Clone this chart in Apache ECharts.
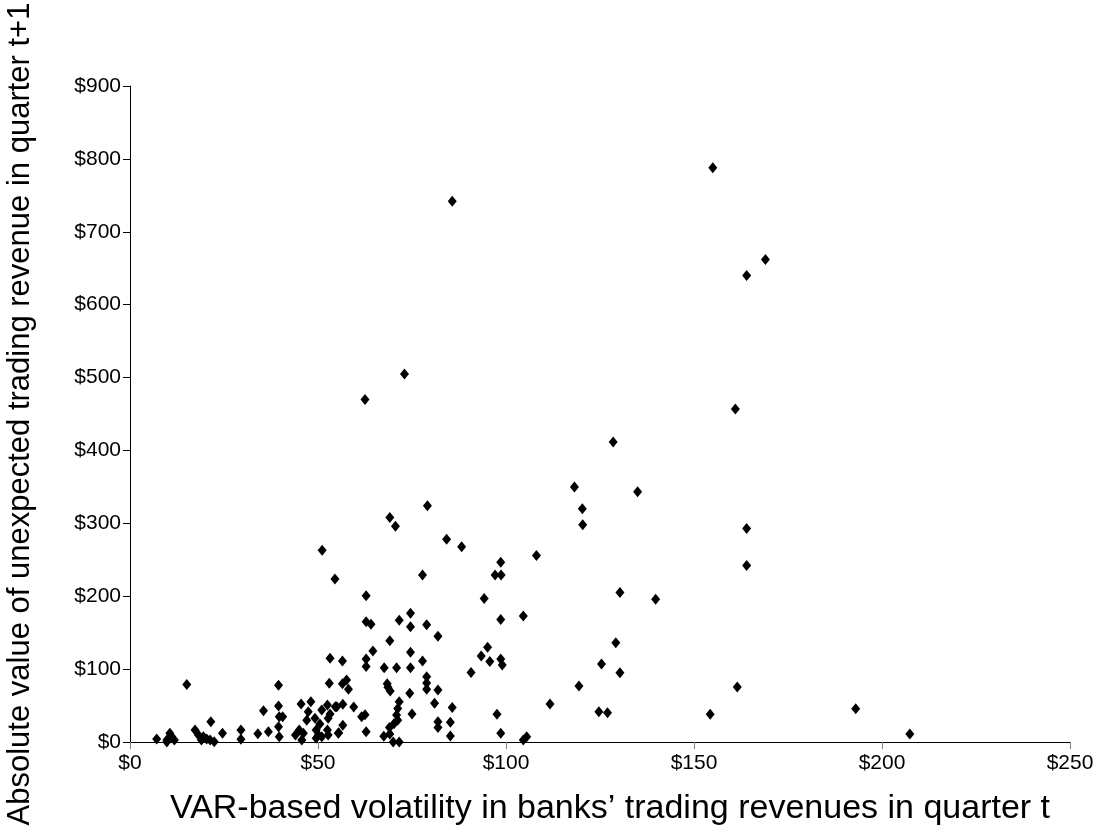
<!DOCTYPE html>
<html>
<head>
<meta charset="utf-8">
<script src="https://cdn.jsdelivr.net/npm/echarts@6/dist/echarts.min.js"></script>
<style>html,body{margin:0;padding:0;background:#fff;}#c{width:1101px;height:838px;}</style>
</head>
<body>
<div id="c"></div>
<script>
var xTitle = "VAR-based volatility in banks\u2019 trading revenues in quarter t";
var yTitle = "Absolute value of unexpected trading revenue in quarter t+1";

// VAR-based volatility (x) and absolute unexpected revenue (y), $ millions
var varVol = [
 7.1, 9.8, 10.6, 11.1, 11.8, 9.8, 15.1, 17.3, 18.2, 19.5, 20.4, 19.0, 22.4, 21.3, 21.5, 24.6, 29.5, 29.5,
 34.0, 36.8, 35.5, 39.5, 39.5, 39.7, 40.6, 39.5, 39.7, 44.0, 45.0, 46.1, 45.7, 45.5, 48.1, 47.4, 47.0,
 51.0, 52.5, 53.2, 52.7, 49.2, 50.5, 55.0, 49.5, 50.1, 49.5, 51.0, 52.7, 52.5, 55.4, 53.2, 53.0, 51.1,
 54.5, 62.8, 62.8, 64.1, 71.6, 74.6, 74.6, 78.9, 69.1, 64.6, 74.6, 77.8, 56.5, 62.8, 62.8, 67.6, 70.9, 74.6,
 56.5, 57.6, 58.1, 68.4, 68.6, 69.2, 74.4, 54.6, 56.6, 59.5, 71.6, 71.2, 70.9, 71.2, 70.2, 69.0, 69.1, 67.5,
 70.0, 71.6, 75.0, 61.6, 62.5, 56.6, 55.5, 62.8,
 77.8, 84.2, 88.2, 79.1, 69.1, 70.6, 98.6, 97.1, 98.7, 94.2, 98.6, 81.9, 95.1, 93.4, 95.7, 98.6, 99.0,
 90.7, 78.9, 78.9, 78.9, 81.9, 81.0, 85.7, 81.9, 81.9, 85.2, 85.2, 97.6, 98.6,
 104.6, 108.1, 104.6, 105.5, 111.7, 118.2, 120.3, 120.4, 119.4, 124.7, 127.0, 125.4, 128.5, 129.2,
 130.3, 130.3, 135.0, 139.8, 154.3, 161.5, 164.0, 193.0, 207.4,
 62.5, 73.0, 85.7, 155.0, 161.0, 164.0, 169.0, 164.0
];
var unexpRev = [
 4, 2.7, 12, 7.3, 2.7, 0, 79, 16.5, 9.6, 7.3, 4, 2.7, 0.4, 2.7, 27.9, 12, 16.5, 3.7,
 11.4, 14.2, 43, 78, 49.4, 34.7, 34.7, 21, 7.3, 9.6, 16.5, 12, 2.7, 52, 55.3, 41.6, 30,
 44, 50.8, 38.4, 32.5, 32.5, 24.7, 48.4, 16.5, 9.6, 5, 7.3, 9.6, 16.5, 12, 115, 80.5, 263,
 223.6, 200.7, 165, 161.5, 167, 176.5, 158, 161, 139, 125, 123, 111, 111, 114, 103.5, 102, 102, 102,
 80, 85, 72.3, 80, 75, 70, 66.8, 48.4, 51.7, 48, 55.3, 46, 37, 30, 25, 20, 11, 8,
 0, 0, 38.4, 34.7, 37.5, 23, 12.8, 14.2,
 229, 278, 268, 324, 308, 296, 246.5, 229, 229, 197, 168, 145, 130, 118, 110.5, 114, 105.6,
 95.3, 89.6, 81, 72.3, 71.3, 53, 47.3, 27.9, 20, 27, 8.2, 38.2, 12,
 173, 256, 2.7, 7.3, 52, 350, 320, 298, 77, 41.6, 40, 107, 411.6, 136,
 205, 95, 343.5, 196, 38, 75.5, 242, 45.7, 11,
 470, 505, 742, 788, 457, 640, 662, 293
];
var xTicks = [0, 50, 100, 150, 200, 250];
var yTicks = [0, 100, 200, 300, 400, 500, 600, 700, 800, 900];

var pts = varVol.map(function (x, i) { return [x, unexpRev[i]]; });
var font = '"Liberation Sans", Arial, sans-serif';

var chart = echarts.init(document.getElementById('c'), null, {renderer: 'canvas'});
chart.setOption({
  backgroundColor: '#ffffff',
  animation: false,
  grid: {left: 130, right: 31, top: 86, bottom: 96, containLabel: false, outerBoundsMode: 'none'},
  xAxis: {
    type: 'value', min: xTicks[0], max: xTicks[xTicks.length - 1], interval: 50,
    name: xTitle, nameLocation: 'middle', nameGap: 50,
    nameTextStyle: {fontFamily: font, fontSize: 34, color: '#000', padding: [0, 0, 0, 20]},
    axisLine: {show: true, onZero: false, lineStyle: {color: '#000', width: 1}},
    axisTick: {show: true, length: 7, inside: false, lineStyle: {color: '#808080', width: 1}},
    axisLabel: {fontFamily: font, fontSize: 21, color: '#000', margin: 11,
      formatter: function (v) { return '$' + v; }},
    splitLine: {show: false}
  },
  yAxis: {
    type: 'value', min: yTicks[0], max: yTicks[yTicks.length - 1], interval: 100,
    name: yTitle, nameLocation: 'middle', nameGap: 94, nameRotate: 90,
    nameTextStyle: {fontFamily: font, fontSize: 31, color: '#000'},
    axisLine: {show: true, onZero: false, lineStyle: {color: '#000', width: 1}},
    axisTick: {show: true, length: 7, inside: false, lineStyle: {color: '#000', width: 1}},
    axisLabel: {fontFamily: font, fontSize: 21, color: '#000', margin: 9,
      formatter: function (v) { return '$' + v; }},
    splitLine: {show: false}
  },
  series: [{
    type: 'scatter',
    data: pts,
    symbol: 'diamond',
    symbolSize: [9, 11],
    itemStyle: {color: '#000000', opacity: 1},
    emphasis: {disabled: true}
  }]
});
</script>
</body>
</html>
